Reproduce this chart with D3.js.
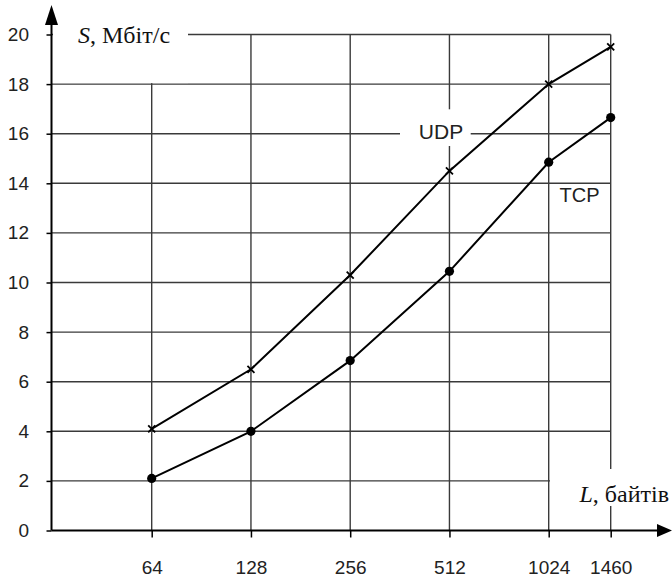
<!DOCTYPE html>
<html>
<head>
<meta charset="utf-8">
<script src="https://cdn.jsdelivr.net/npm/d3@7"></script>
<style>
  body { margin: 0; background: #fff; }
  svg { display: block; }
  .tick text { font-family: "Liberation Sans", Arial, sans-serif; font-size: 19px; fill: #222; }
  .tick line { stroke: #000; stroke-width: 1.5; }
</style>
</head>
<body>
<div id="chart"></div>
<script>
let height = 579,
    width = 672,
    margin = ({ top: 34.5, right: 61.3, bottom: 48.5, left: 51.5 });

// packet sizes (bytes)
const sizes = [64, 128, 256, 512, 1024, 1460];
// throughput, Mbit/s
const udp = [4.1, 6.5, 10.3, 14.5, 18.0, 19.5];
const tcp = [2.1, 4.0, 6.85, 10.45, 14.85, 16.65];
const yTicks = [0, 2, 4, 6, 8, 10, 12, 14, 16, 18, 20];

const svg = d3.select("#chart")
  .append("svg")
  .attr("width", width)
  .attr("height", height);

// log2 spacing up to 1024, the last tick is placed a bit further out like in the original
let x = d3.scaleLog().base(2)
  .domain([64, 1024, 1460])
  .range([151.7, 548.7, width - margin.right]);

let y = d3.scaleLinear()
  .domain([0, 20])
  .range([height - margin.bottom, margin.top]);

const x0 = margin.left, y0 = y(0);

// grid
const grid = svg.append("g").attr("stroke", "#3a3a3a").attr("stroke-width", 1.4);
grid.selectAll(".h")
  .data(yTicks.filter(d => d > 0))
  .join("line")
  .attr("x1", x0).attr("x2", x(1460))
  .attr("y1", d => y(d)).attr("y2", d => y(d));
grid.selectAll(".v")
  .data(sizes)
  .join("line")
  .attr("x1", d => x(d)).attr("x2", d => x(d))
  .attr("y1", y(20)).attr("y2", y0);

// white boxes behind labels cut the grid
const boxes = [
  [x0 + 1.5, 8, 188, y(18) - 1],
  [400, 109.3, 470.7, 146],
  [550, 469, width, 506]
];
svg.append("g").selectAll("rect")
  .data(boxes)
  .join("rect")
  .attr("fill", "#fff")
  .attr("x", d => d[0]).attr("y", d => d[1])
  .attr("width", d => d[2] - d[0]).attr("height", d => d[3] - d[1]);

// axes
svg.append("g")
  .attr("transform", `translate(${x0},0)`)
  .call(d3.axisLeft(y).tickValues(yTicks).tickSize(5).tickPadding(17.5))
  .call(g => g.select(".domain").remove());

svg.append("g")
  .attr("transform", `translate(0,${y0})`)
  .call(d3.axisBottom(x).tickValues(sizes).tickFormat(d => d).tickSize(7).tickPadding(23))
  .call(g => g.select(".domain").remove());

svg.append("line")
  .attr("x1", x0).attr("x2", x0).attr("y1", y0).attr("y2", 20)
  .attr("stroke", "#000").attr("stroke-width", 2);
svg.append("line")
  .attr("x1", x0).attr("x2", width - 12).attr("y1", y0).attr("y2", y0)
  .attr("stroke", "#000").attr("stroke-width", 2);
svg.append("path")
  .attr("d", `M${x0},5L${x0 - 6.5},25L${x0 + 6.5},25Z`);
svg.append("path")
  .attr("d", `M${width},${y0}L${width - 15},${y0 - 6.5}L${width - 15},${y0 + 6.5}Z`);

// axis titles
const serif = "'Liberation Serif', 'Times New Roman', serif";
const sLab = svg.append("text")
  .attr("x", 78).attr("y", 43)
  .attr("font-family", serif).attr("font-size", 24).attr("fill", "#111");
sLab.append("tspan").attr("font-style", "italic").text("S");
sLab.append("tspan").text(", Мбіт/с");

const lLab = svg.append("text")
  .attr("x", 669).attr("y", 502)
  .attr("text-anchor", "end")
  .attr("font-family", serif).attr("font-size", 24).attr("fill", "#111");
lLab.append("tspan").attr("font-style", "italic").text("L");
lLab.append("tspan").text(", байтів");

// series
const line = d3.line()
  .x((d, i) => x(sizes[i]))
  .y(d => y(d));

svg.append("path")
  .datum(udp)
  .attr("fill", "none").attr("stroke", "#000").attr("stroke-width", 2)
  .attr("d", line);
svg.append("path")
  .datum(tcp)
  .attr("fill", "none").attr("stroke", "#000").attr("stroke-width", 2)
  .attr("d", line);

svg.append("g")
  .selectAll("path")
  .data(udp)
  .join("path")
  .attr("transform", (d, i) => `translate(${x(sizes[i])},${y(d)})`)
  .attr("d", "M-3.5,-3.5L3.5,3.5M-3.5,3.5L3.5,-3.5")
  .attr("stroke", "#000").attr("stroke-width", 1.8);

svg.append("g")
  .selectAll("circle")
  .data(tcp)
  .join("circle")
  .attr("cx", (d, i) => x(sizes[i]))
  .attr("cy", d => y(d))
  .attr("r", 4.6)
  .attr("fill", "#000");

// series labels
svg.append("text")
  .attr("x", 441).attr("y", 131.5).attr("dy", "0.35em")
  .attr("text-anchor", "middle")
  .attr("font-family", "'Liberation Sans', Arial, sans-serif").attr("font-size", 21)
  .attr("fill", "#222")
  .text("UDP");
svg.append("text")
  .attr("x", 579.5).attr("y", 195).attr("dy", "0.35em")
  .attr("text-anchor", "middle")
  .attr("font-family", "'Liberation Sans', Arial, sans-serif").attr("font-size", 20)
  .attr("fill", "#222")
  .text("TCP");
</script>
</body>
</html>
